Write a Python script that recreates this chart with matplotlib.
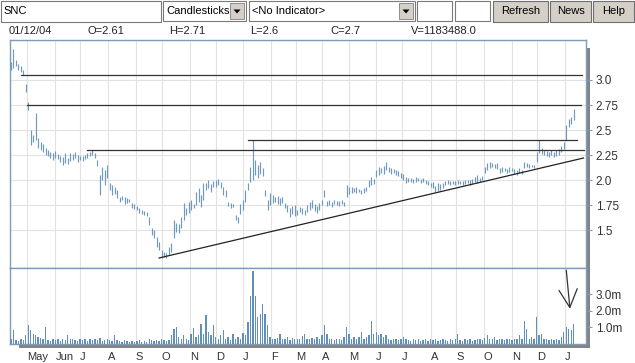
import numpy as np
import pandas as pd
import matplotlib
matplotlib.use('Agg')
import matplotlib.pyplot as plt
from matplotlib.patches import Rectangle, Polygon

plt.rcParams['font.family'] = ['Liberation Sans', 'DejaVu Sans']

# --- data -----------------------------------------------------------------
ticker = 'SNC'
first_day = '2002-04-12'
last_day = '2004-01-12'
axis_end = '2004-01-23'
info = ['01/12/04', 'O=2.61', 'H=2.71', 'L=2.6', 'C=2.7', 'V=1183488.0']

# high/low every second trading day
price_low = [
    3.10, 3.12, 3.14, 3.10, 3.08, 3.05, 2.88, 2.70, 2.35, 2.38,
    2.40, 2.32, 2.30, 2.28, 2.25, 2.24, 2.22, 2.20, 2.22, 2.21,
    2.18, 2.15, 2.17, 2.16, 2.19, 2.20, 2.22, 2.18, 2.20, 2.19,
    2.21, 2.22, 2.24, 2.25, 2.22, 2.14, 1.85, 2.00, 1.95, 2.02,
    1.90, 1.85, 1.86, 1.82, 1.78, 1.80, 1.76, 1.77, 1.78, 1.72,
    1.71, 1.70, 1.67, 1.66, 1.65, 1.64, 1.55, 1.45, 1.42, 1.33,
    1.30, 1.22, 1.23, 1.22, 1.25, 1.28, 1.42, 1.48, 1.47, 1.52,
    1.60, 1.65, 1.67, 1.70, 1.72, 1.75, 1.78, 1.73, 1.80, 1.90,
    1.92, 1.88, 1.93, 1.93, 1.95, 1.92, 1.85, 1.83, 1.74, 1.72,
    1.73, 1.60, 1.57, 1.66, 1.70, 1.78, 1.90, 1.98, 2.00, 2.05,
    2.02, 2.06, 2.04, 1.84, 1.70, 1.75, 1.77, 1.78, 1.76, 1.75,
    1.77, 1.72, 1.68, 1.63, 1.66, 1.64, 1.65, 1.68, 1.66, 1.65,
    1.68, 1.70, 1.72, 1.69, 1.67, 1.70, 1.75, 1.83, 1.74, 1.75,
    1.73, 1.76, 1.75, 1.74, 1.76, 1.74, 1.83, 1.86, 1.87, 1.88,
    1.87, 1.88, 1.86, 1.87, 1.89, 1.93, 1.95, 1.96, 2.03, 2.05,
    2.07, 2.06, 2.10, 2.08, 2.06, 2.07, 2.05, 2.04, 2.02, 2.00,
    1.97, 1.98, 1.98, 1.97, 1.98, 1.99, 1.97, 1.98, 1.96, 1.95,
    1.93, 1.92, 1.88, 1.89, 1.90, 1.92, 1.95, 1.96, 1.95, 1.96,
    1.95, 1.96, 1.96, 1.95, 1.96, 1.97, 1.95, 1.96, 1.98, 1.97,
    1.98, 2.00, 2.07, 2.10, 2.12, 2.13, 2.12, 2.11, 2.07, 2.08,
    2.09, 2.07, 2.08, 2.09, 2.06, 2.05, 2.07, 2.06, 2.12, 2.13,
    2.12, 2.13, 2.12, 2.18, 2.27, 2.26, 2.25, 2.24, 2.23, 2.25,
    2.23, 2.24, 2.25, 2.28, 2.31, 2.40, 2.53, 2.56, 2.60,
]
price_high = [
    3.18, 3.31, 3.20, 3.16, 3.14, 3.10, 2.96, 2.78, 2.50, 2.45,
    2.67, 2.42, 2.38, 2.36, 2.32, 2.30, 2.28, 2.27, 2.29, 2.26,
    2.24, 2.23, 2.27, 2.22, 2.27, 2.26, 2.28, 2.25, 2.24, 2.24,
    2.25, 2.27, 2.28, 2.30, 2.27, 2.20, 2.05, 2.13, 2.10, 2.15,
    1.97, 1.95, 1.93, 1.90, 1.83, 1.84, 1.83, 1.82, 1.81, 1.77,
    1.76, 1.74, 1.72, 1.70, 1.69, 1.68, 1.63, 1.52, 1.50, 1.43,
    1.38, 1.30, 1.28, 1.27, 1.33, 1.37, 1.60, 1.57, 1.56, 1.63,
    1.77, 1.72, 1.78, 1.80, 1.76, 1.88, 1.92, 1.85, 1.97, 1.97,
    2.00, 1.96, 1.99, 2.00, 2.01, 1.98, 1.93, 1.90, 1.78, 1.77,
    1.76, 1.65, 1.63, 1.76, 1.80, 1.90, 1.97, 2.13, 2.40, 2.20,
    2.15, 2.18, 2.12, 1.90, 1.80, 1.87, 1.85, 1.83, 1.84, 1.82,
    1.83, 1.77, 1.75, 1.72, 1.74, 1.75, 1.70, 1.73, 1.72, 1.70,
    1.75, 1.78, 1.80, 1.76, 1.74, 1.77, 1.80, 1.90, 1.79, 1.80,
    1.78, 1.80, 1.79, 1.79, 1.80, 1.78, 1.95, 1.93, 1.93, 1.92,
    1.93, 1.91, 1.90, 1.92, 1.93, 2.00, 2.03, 2.01, 2.10, 2.13,
    2.12, 2.14, 2.18, 2.13, 2.12, 2.11, 2.10, 2.09, 2.07, 2.06,
    2.03, 2.02, 2.02, 2.01, 2.03, 2.02, 2.01, 2.02, 2.00, 1.99,
    1.97, 1.98, 1.94, 1.97, 1.96, 1.97, 1.99, 2.00, 1.99, 1.99,
    1.99, 2.00, 1.99, 1.99, 2.00, 2.00, 2.00, 2.01, 2.03, 2.05,
    2.02, 2.04, 2.13, 2.17, 2.18, 2.17, 2.16, 2.17, 2.12, 2.13,
    2.12, 2.11, 2.13, 2.12, 2.11, 2.10, 2.12, 2.10, 2.18, 2.17,
    2.16, 2.15, 2.15, 2.28, 2.40, 2.32, 2.30, 2.29, 2.28, 2.30,
    2.28, 2.30, 2.31, 2.34, 2.38, 2.55, 2.61, 2.63, 2.71,
]
# volume in millions, same days
volume_m = [
    0.30, 0.80, 0.20, 0.15, 0.25, 0.20, 0.50, 1.10, 0.80, 0.60,
    0.50, 0.40, 0.35, 0.30, 1.00, 0.20, 0.15, 0.25, 0.20, 0.30,
    0.15, 0.30, 0.20, 0.50, 0.25, 0.30, 0.20, 0.15, 0.25, 0.20,
    0.30, 0.15, 0.25, 0.20, 0.30, 0.20, 0.35, 0.15, 0.20, 0.25,
    0.20, 0.15, 0.50, 0.20, 0.15, 0.12, 0.20, 0.15, 0.10, 0.18,
    0.12, 0.15, 0.20, 0.10, 0.15, 0.12, 0.25, 0.20, 0.15, 0.22,
    0.18, 0.25, 0.20, 0.15, 0.20, 0.50, 0.90, 1.00, 0.40, 0.30,
    0.50, 0.30, 0.20, 0.60, 0.95, 0.40, 0.50, 1.20, 0.60, 1.70,
    0.70, 0.50, 1.10, 0.40, 0.30, 0.50, 0.80, 0.30, 0.40, 0.20,
    0.60, 0.30, 0.40, 0.30, 0.65, 0.50, 1.30, 2.90, 4.40, 2.90,
    1.60, 1.80, 2.40, 1.80, 1.10, 0.40, 0.30, 0.25, 0.35, 0.55,
    0.30, 0.25, 0.40, 0.20, 0.35, 0.30, 0.25, 0.30, 0.45, 0.55,
    0.30, 0.25, 0.35, 0.30, 0.40, 0.30, 0.50, 1.10, 0.60, 0.30,
    0.25, 0.20, 0.30, 0.25, 0.20, 0.40, 1.00, 0.60, 0.30, 0.40,
    0.30, 0.40, 0.70, 0.30, 0.40, 0.50, 1.35, 0.60, 0.70, 0.50,
    0.60, 0.40, 0.50, 0.30, 0.20, 0.30, 0.25, 0.20, 0.30, 0.40,
    0.25, 0.20, 0.15, 0.25, 0.20, 0.30, 0.15, 0.20, 0.25, 0.15,
    0.30, 0.20, 0.25, 0.15, 0.20, 0.30, 0.20, 0.15, 0.25, 0.20,
    0.30, 0.55, 0.20, 0.15, 0.25, 0.20, 0.30, 0.15, 0.20, 0.25,
    0.30, 0.20, 0.35, 0.50, 0.30, 0.25, 0.40, 0.20, 0.30, 0.25,
    0.20, 0.30, 0.25, 0.20, 0.30, 0.25, 0.50, 0.30, 1.35, 0.90,
    0.30, 0.40, 0.30, 1.60, 0.50, 0.60, 0.30, 0.25, 0.20, 0.25,
    0.20, 0.30, 0.20, 0.40, 0.70, 1.00, 0.90, 0.80, 1.20,
]

month_starts = pd.date_range('2002-05-01', '2004-01-01', freq='MS')
month_labels = ['May', 'Jun', 'J', 'A', 'S', 'O', 'N', 'D', 'J', 'F', 'M',
                'A', 'M', 'J', 'J', 'A', 'S', 'O', 'N', 'D', 'J']
price_ticks = [1.5, 1.75, 2.0, 2.25, 2.5, 2.75, 3.0]
price_tick_labels = ['1.5', '1.75', '2.0', '2.25', '2.5', '2.75', '3.0']
vol_ticks = [1, 2, 3]
vol_tick_labels = ['1.0m', '2.0m', '3.0m']

# user-drawn study lines
level_prices = [3.05, 2.75, 2.40, 2.30]
level_from = ['2002-04-24', '2002-05-01', '2003-01-07', '2002-07-09']
level_to = ['2004-01-21', '2004-01-20', '2004-01-15', '2004-01-22']
trend_dates = ['2002-09-27', '2004-01-22']
trend_prices = [1.22, 2.22]
arrow_dates = ['2004-01-02', '2004-01-07']
arrow_vols = [4.45, 2.1]


def bx(d):
    # trading-day position on the x axis
    return np.busday_count(np.datetime64(first_day), np.datetime64(str(d)[:10], 'D'))


xs = np.linspace(0, bx(last_day), len(price_low))
xv = np.linspace(0, bx(last_day), len(volume_m))
month_x = [bx(m.date()) for m in month_starts]

# --- layout ---------------------------------------------------------------
W, H = 635, 363
fig = plt.figure(figsize=(W / 100, H / 100), dpi=100)


def frac(x0, y0, x1, y1):
    return [x0 / W, 1 - y1 / H, (x1 - x0) / W, (y1 - y0) / H]


ui = fig.add_axes([0, 0, 1, 1])
ui.set_xlim(0, W)
ui.set_ylim(H, 0)
ui.axis('off')

frame = '#7b9cbc'
bar_col = '#7099c0'
grid_col = '#e2e2e2'

# toolbar
ui.add_patch(Rectangle((0.5, 0.5), 160, 21, fc='white', ec='#7a7a7a', lw=0.8))
ui.text(3, 11, ticker, fontsize=8, va='center')
for x0, x1, txt in [(163, 246, 'Candlesticks'), (249, 415, '<No Indicator>')]:
    ui.add_patch(Rectangle((x0, 1), x1 - x0, 20, fc='white', ec='#7a7a7a', lw=0.8))
    ui.text(x0 + 3, 11.5, txt, fontsize=8, va='center')
    ui.add_patch(Rectangle((x1 - 16, 3), 14, 16, fc='#d4d0c8', ec='#808080', lw=0.6))
    cx = x1 - 9
    ui.add_patch(Polygon([(cx - 3.5, 9.5), (cx + 3.5, 9.5), (cx, 13.5)], fc='black', ec='none'))
for x0, x1 in [(417, 452), (455, 490)]:
    ui.add_patch(Rectangle((x0, 1), x1 - x0, 20, fc='white', ec='#7a7a7a', lw=0.8))
for x0, x1, txt in [(493, 548, 'Refresh'), (550, 591, 'News'), (593, 634, 'Help')]:
    ui.add_patch(Rectangle((x0, 0.5), x1 - x0, 21.5, fc='#d4d0c8', ec='#6f6f6f', lw=0.8))
    ui.text((x0 + x1) / 2, 11.5, txt, fontsize=8, ha='center', va='center')

for x, txt in zip([9, 87, 169, 250, 330, 411], info):
    ui.text(x, 30.5, txt, fontsize=8, va='center', color='#222222')

# drop shadow
ui.add_patch(Rectangle((586.5, 48), 3.5, 299.5, fc='#848484', ec='none'))
ui.add_patch(Rectangle((19, 344), 571, 3.5, fc='#848484', ec='none'))

# --- price panel ----------------------------------------------------------
ax = fig.add_axes(frac(10, 40, 586, 268))
ax.vlines(xs, price_low, price_high, color=bar_col, lw=0.85, zorder=3)
for p, a, b in zip(level_prices, level_from, level_to):
    ax.plot([bx(a), bx(b)], [p, p], color='#333333', lw=0.9, zorder=4)
ax.plot([bx(d) for d in trend_dates], trend_prices, color='#222222', lw=0.9, zorder=4)

ax.set_xlim(-0.8, bx(axis_end) + 1)
ax.set_ylim(1.12, 3.4)
ax.set_xticks(month_x)
ax.set_xticklabels([])
ax.tick_params(axis='x', length=0)
ax.yaxis.tick_right()
ax.set_yticks(price_ticks, price_tick_labels)
ax.tick_params(axis='y', length=4, color=frame, labelsize=8.5,
               labelcolor='#333333', pad=3)
ax.grid(True, color=grid_col, lw=0.8, zorder=0)
for s in ax.spines.values():
    s.set_color(frame)
    s.set_linewidth(1)

# --- volume panel ---------------------------------------------------------
axv = fig.add_axes(frac(10, 268, 586, 343.5))
axv.bar(xv, volume_m, width=1.1, color='#5f8fba', linewidth=0, zorder=3)
axv.annotate('', xy=(bx(arrow_dates[1]), arrow_vols[1]),
             xytext=(bx(arrow_dates[0]), arrow_vols[0]),
             arrowprops=dict(arrowstyle='->,head_length=0.65,head_width=0.33',
                             color='#333333', lw=0.9, mutation_scale=20,
                             shrinkA=0, shrinkB=0),
             annotation_clip=False, zorder=5)
axv.set_xlim(ax.get_xlim())
axv.set_ylim(0, 4.58)
axv.set_xticks(month_x, month_labels)
axv.tick_params(axis='x', length=0, pad=6, labelsize=8, labelcolor='#333333')
for lbl in axv.get_xticklabels():
    lbl.set_ha('left')
axv.yaxis.tick_right()
axv.set_yticks(vol_ticks, vol_tick_labels)
axv.tick_params(axis='y', length=4, color=frame, labelsize=8.5,
                labelcolor='#333333', pad=3)
axv.grid(True, axis='x', color=grid_col, lw=0.8, zorder=0)
for s in axv.spines.values():
    s.set_color(frame)
    s.set_linewidth(1)

fig.savefig('out.png', dpi=100)
